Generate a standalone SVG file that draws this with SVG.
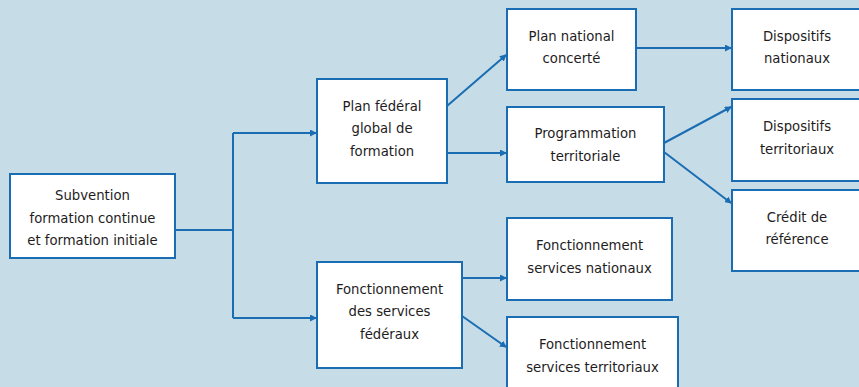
<svg xmlns="http://www.w3.org/2000/svg" width="859" height="387" viewBox="0 0 859 387">
<style>
.box{fill:#ffffff;stroke:#1a6db3;stroke-width:2}
.t{font-family:"DejaVu Sans Condensed","DejaVu Sans",sans-serif;font-size:14.7px;fill:#1e1c1d;text-anchor:middle}
.c{fill:none;stroke:#1a6db3;stroke-width:2}
</style>
<defs>
<marker id="ah" markerWidth="7" markerHeight="7" refX="6" refY="3.5" orient="auto" markerUnits="userSpaceOnUse">
<path d="M0,0 L7,3.5 L0,7 Z" fill="#1a6db3"/>
</marker>
</defs>
<rect width="859" height="387" fill="#c6dde8"/>
<g id="connectors">
<path class="c" d="M175,230 H233"/>
<path class="c" d="M233,133 V318"/>
<path class="c" d="M233,133 H316" marker-end="url(#ah)"/>
<path class="c" d="M233,318 H316" marker-end="url(#ah)"/>
<path class="c" d="M447,106 L506,55" marker-end="url(#ah)"/>
<path class="c" d="M447,153 H506" marker-end="url(#ah)"/>
<path class="c" d="M636,48 H731" marker-end="url(#ah)"/>
<path class="c" d="M664,143 L731,107" marker-end="url(#ah)"/>
<path class="c" d="M664,152 L731,203" marker-end="url(#ah)"/>
<path class="c" d="M462,278 H506" marker-end="url(#ah)"/>
<path class="c" d="M462,316 L506,347" marker-end="url(#ah)"/>
</g>
<g id="subvention">
<rect class="box" x="10" y="174" width="165" height="84"/>
<text class="t" x="92.5" y="200">Subvention</text>
<text class="t" x="92.5" y="222.5">formation continue</text>
<text class="t" x="92.5" y="245">et formation initiale</text>
</g>
<g id="plan-federal">
<rect class="box" x="317" y="79" width="130" height="104"/>
<text class="t" x="382" y="110.5">Plan fédéral</text>
<text class="t" x="382" y="133">global de</text>
<text class="t" x="382" y="156">formation</text>
</g>
<g id="fonctionnement-federaux">
<rect class="box" x="317" y="262" width="145" height="106"/>
<text class="t" x="389.5" y="294">Fonctionnement</text>
<text class="t" x="389.5" y="316">des services</text>
<text class="t" x="389.5" y="338.5">fédéraux</text>
</g>
<g id="plan-national">
<rect class="box" x="507" y="9" width="129" height="81"/>
<text class="t" x="571.5" y="40.5">Plan national</text>
<text class="t" x="571.5" y="63">concerté</text>
</g>
<g id="programmation">
<rect class="box" x="507" y="107" width="157" height="75"/>
<text class="t" x="585.5" y="138">Programmation</text>
<text class="t" x="585.5" y="160.5">territoriale</text>
</g>
<g id="fonct-nationaux">
<rect class="box" x="507" y="218" width="165" height="82"/>
<text class="t" x="589.5" y="250">Fonctionnement</text>
<text class="t" x="589.5" y="272.5">services nationaux</text>
</g>
<g id="fonct-territoriaux">
<rect class="box" x="507" y="317" width="171" height="80"/>
<text class="t" x="592.5" y="349">Fonctionnement</text>
<text class="t" x="592.5" y="371.5">services territoriaux</text>
</g>
<g id="disp-nationaux">
<rect class="box" x="732" y="9" width="130" height="81"/>
<text class="t" x="797" y="40.5">Dispositifs</text>
<text class="t" x="797" y="63">nationaux</text>
</g>
<g id="disp-territoriaux">
<rect class="box" x="732" y="99" width="130" height="82"/>
<text class="t" x="797" y="131">Dispositifs</text>
<text class="t" x="797" y="153.5">territoriaux</text>
</g>
<g id="credit">
<rect class="box" x="732" y="190" width="130" height="81"/>
<text class="t" x="797" y="221.5">Crédit de</text>
<text class="t" x="797" y="243.5">référence</text>
</g>
</svg>
